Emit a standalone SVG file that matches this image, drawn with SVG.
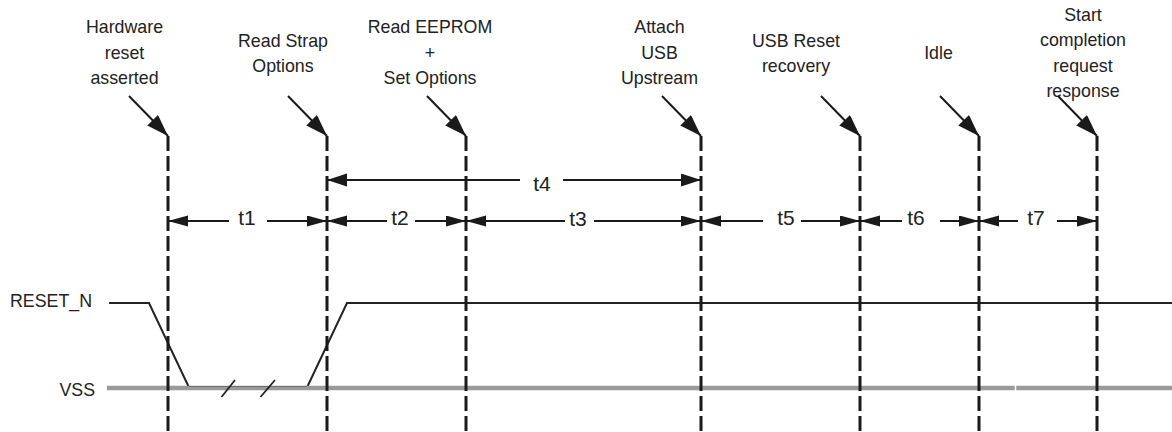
<svg xmlns="http://www.w3.org/2000/svg" width="1172" height="432" viewBox="0 0 1172 432">
<style>
  text { font-family: "Liberation Sans", Arial, sans-serif; fill: #222; }
  .lbl { font-size: 17.8px; text-anchor: middle; }
  .t { font-size: 21px; text-anchor: middle; }
  .sig { font-size: 17.8px; text-anchor: end; }
  .dash { stroke: #1a1a1a; stroke-width: 3; stroke-dasharray: 15 5; fill: none; }
  .diag { stroke: #1a1a1a; stroke-width: 2; fill: none; marker-end: url(#ad); }
  .dim { stroke: #1a1a1a; stroke-width: 1.8; fill: none; marker-end: url(#ah); }
  .dim4 { stroke: #1a1a1a; stroke-width: 1.8; fill: none; marker-end: url(#ah4); }
</style>
<defs>
  <marker id="ad" markerUnits="userSpaceOnUse" markerWidth="24" markerHeight="18" refX="22" refY="7.5" orient="auto">
    <path d="M0,0 L22,7.5 L0,15 z" fill="#1a1a1a"/>
  </marker>
  <marker id="ah" markerUnits="userSpaceOnUse" markerWidth="22" markerHeight="13" refX="20" refY="5.5" orient="auto">
    <path d="M0,0 L20,5.5 L0,11 z" fill="#1a1a1a"/>
  </marker>
  <marker id="ah4" markerUnits="userSpaceOnUse" markerWidth="22" markerHeight="15" refX="20" refY="6.5" orient="auto">
    <path d="M0,0 L20,6.5 L0,13 z" fill="#1a1a1a"/>
  </marker>
</defs>
<rect width="1172" height="432" fill="#fff"/>

<g id="signals">
  <polyline points="109,303 149,303 189,387.5 307,387.5 347,303 1172,303" fill="none" stroke="#222" stroke-width="2"/>
  <line x1="107" y1="388" x2="1172" y2="388" stroke="#9a9a9a" stroke-width="4.5"/>
  <line x1="189" y1="386.5" x2="307" y2="386.5" stroke="#555" stroke-width="1" opacity="0.6"/>
  <line x1="1015.5" y1="385" x2="1015.5" y2="391" stroke="#fff" stroke-width="1.5"/>
  <line x1="221.5" y1="397" x2="235" y2="380" stroke="#222" stroke-width="1.8"/>
  <line x1="260.5" y1="397" x2="275" y2="380" stroke="#222" stroke-width="1.8"/>
  <text class="sig" x="92" y="307">RESET_N</text>
  <text class="sig" x="95" y="396">VSS</text>
</g>

<g id="ev-hw-reset">
  <text class="lbl" x="124.5" y="33">Hardware</text>
  <text class="lbl" x="124.5" y="58.5">reset</text>
  <text class="lbl" x="124.5" y="84">asserted</text>
  <line class="diag" x1="129" y1="96" x2="168" y2="136"/>
  <line class="dash" x1="168" y1="136" x2="168" y2="432"/>
</g>
<g id="ev-read-strap">
  <text class="lbl" x="283" y="47">Read Strap</text>
  <text class="lbl" x="283" y="72">Options</text>
  <line class="diag" x1="288" y1="96" x2="327" y2="136"/>
  <line class="dash" x1="327" y1="136" x2="327" y2="432"/>
</g>
<g id="ev-eeprom">
  <text class="lbl" x="430" y="33">Read EEPROM</text>
  <text class="lbl" x="430" y="58.5">+</text>
  <text class="lbl" x="430" y="84">Set Options</text>
  <line class="diag" x1="427" y1="96" x2="466" y2="136"/>
  <line class="dash" x1="466" y1="136" x2="466" y2="432"/>
</g>
<g id="ev-attach">
  <text class="lbl" x="659.5" y="33">Attach</text>
  <text class="lbl" x="659.5" y="58.5">USB</text>
  <text class="lbl" x="659.5" y="84">Upstream</text>
  <line class="diag" x1="662" y1="96" x2="701" y2="136"/>
  <line class="dash" x1="701" y1="136" x2="701" y2="432"/>
</g>
<g id="ev-usb-reset">
  <text class="lbl" x="796" y="47">USB Reset</text>
  <text class="lbl" x="796" y="72">recovery</text>
  <line class="diag" x1="821" y1="96" x2="860" y2="136"/>
  <line class="dash" x1="860" y1="136" x2="860" y2="432"/>
</g>
<g id="ev-idle">
  <text class="lbl" x="938.5" y="59">Idle</text>
  <line class="diag" x1="940" y1="96" x2="979" y2="136"/>
  <line class="dash" x1="979" y1="136" x2="979" y2="432"/>
</g>
<g id="ev-start">
  <text class="lbl" x="1083" y="21">Start</text>
  <text class="lbl" x="1083" y="46.3">completion</text>
  <text class="lbl" x="1083" y="71.6">request</text>
  <text class="lbl" x="1083" y="97">response</text>
  <line class="diag" x1="1058" y1="96" x2="1097" y2="136"/>
  <line class="dash" x1="1097" y1="136" x2="1097" y2="432"/>
</g>

<g id="connectors">
  <line class="dim" x1="229" y1="221" x2="168" y2="221"/>
  <line class="dim" x1="267" y1="221" x2="327" y2="221"/>
  <line class="dim" x1="387" y1="221" x2="327" y2="221"/>
  <line class="dim" x1="415" y1="221" x2="466" y2="221"/>
  <line class="dim" x1="565" y1="221" x2="466" y2="221"/>
  <line class="dim" x1="594" y1="221" x2="701" y2="221"/>
  <line class="dim" x1="763" y1="221" x2="701" y2="221"/>
  <line class="dim" x1="801" y1="221" x2="860" y2="221"/>
  <line class="dim" x1="902" y1="221" x2="860" y2="221"/>
  <line class="dim" x1="940" y1="221" x2="979" y2="221"/>
  <line class="dim" x1="1018" y1="221" x2="979" y2="221"/>
  <line class="dim" x1="1057" y1="221" x2="1097" y2="221"/>
  <line class="dim4" x1="520" y1="180" x2="327" y2="180"/>
  <line class="dim4" x1="563" y1="180" x2="701" y2="180"/>
  <text class="t" x="247" y="225">t1</text>
  <text class="t" x="400" y="225">t2</text>
  <text class="t" x="578" y="226">t3</text>
  <text class="t" x="542" y="191">t4</text>
  <text class="t" x="786" y="225">t5</text>
  <text class="t" x="916" y="225">t6</text>
  <text class="t" x="1036" y="225">t7</text>
</g>
</svg>
